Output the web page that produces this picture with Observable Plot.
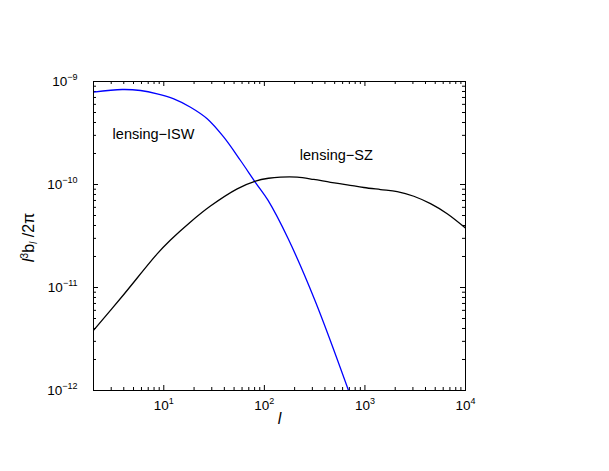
<!DOCTYPE html>
<html><head><meta charset="utf-8">
<script src="https://cdn.jsdelivr.net/npm/d3@7"></script>
<script src="https://cdn.jsdelivr.net/npm/@observablehq/plot@0.6"></script>
<style>body{margin:0;background:#fff} svg{display:block}</style>
</head><body><div id="chart"></div>
<script>
// lensing-SZ (black)
const szL = [2, 4.0, 8.59, 11.66, 18.44, 29.1, 53.7, 81.7, 110, 144.5, 211.8, 309.7, 455, 667, 975, 1429, 2094, 3062, 4487, 6577, 10000];
const szV = [3.83e-12, 8.55e-12, 2.12e-11, 2.89e-11, 4.33e-11, 6.18e-11, 9.08e-11, 1.08e-10, 1.15e-10, 1.18e-10, 1.18e-10, 1.12e-10, 1.05e-10, 9.93e-11, 9.35e-11, 8.93e-11, 8.54e-11, 7.69e-11, 6.51e-11, 5.2e-11, 3.77e-11];
// lensing-ISW (blue)
const iswL = [2, 3.86, 5.87, 8.59, 12.57, 18.44, 27.0, 39.5, 57.9, 81.7, 108.9, 172.6, 318.6, 687];
const iswV = [7.87e-10, 8.36e-10, 8.18e-10, 7.6e-10, 6.79e-10, 5.63e-10, 4.35e-10, 2.88e-10, 1.71e-10, 1.045e-10, 7.0e-11, 2.97e-11, 7.48e-12, 1e-12];
// annotations
const annText = ["lensing\u2212ISW", "lensing\u2212SZ"];
const annL = [7.9, 519];
const annV = [3.05e-10, 1.91e-10];
// ticks
const xMajor = [10, 100, 1000, 10000];
const yMajor = [1e-12, 1e-11, 1e-10, 1e-9];
const xMinor = [], yMinor = [];
for (let e = 0; e < 4; e++) for (let m = 2; m <= 9; m++) { const v = m * 10 ** e; if (v > 2 && v < 1e4) xMinor.push(v); }
for (let e = -12; e < -9; e++) for (let m = 2; m <= 9; m++) yMinor.push(m * 10 ** e);

const W = 609, H = 471, mL = 93, mR = 144, mT = 81, mB = 81;
const fw = W - mL - mR, fh = H - mT - mB;
const major = 5, minor = 3;
const font = "'Liberation Sans', Arial, Helvetica, sans-serif";

const sz = szL.map((l, i) => ({l, v: szV[i]}));
const isw = iswL.map((l, i) => ({l, v: iswV[i]}));
const ann = annText.map((t, i) => ({t, l: annL[i], v: annV[i]}));
const expFmt = d => "10^" + String(Math.round(Math.log10(d))).replace("-", "\u2212");

const chart = Plot.plot({
  width: W, height: H,
  marginLeft: mL, marginRight: mR, marginTop: mT, marginBottom: mB,
  style: {fontFamily: font, background: "#fff", color: "#000"},
  x: {type: "log", domain: [2, 1e4]},
  y: {type: "log", domain: [1e-12, 1e-9]},
  marks: [
    Plot.tickX(xMajor, {x: d => d, insetTop: fh - major, stroke: "#000"}),
    Plot.tickX(xMajor, {x: d => d, insetBottom: fh - major, stroke: "#000"}),
    Plot.tickX(xMinor, {x: d => d, insetTop: fh - minor, stroke: "#000"}),
    Plot.tickX(xMinor, {x: d => d, insetBottom: fh - minor, stroke: "#000"}),
    Plot.tickY(yMajor, {y: d => d, insetRight: fw - major, stroke: "#000"}),
    Plot.tickY(yMajor, {y: d => d, insetLeft: fw - major, stroke: "#000"}),
    Plot.tickY(yMinor, {y: d => d, insetRight: fw - minor, stroke: "#000"}),
    Plot.tickY(yMinor, {y: d => d, insetLeft: fw - minor, stroke: "#000"}),
    Plot.line(isw, {x: "l", y: "v", stroke: "#0000ff", strokeWidth: 1.3, curve: "catmull-rom", clip: true}),
    Plot.line(sz, {x: "l", y: "v", stroke: "#000", strokeWidth: 1.3, curve: "catmull-rom", clip: true}),
    Plot.frame({stroke: "#000"}),
    Plot.axisX(xMajor, {tickSize: 0, tickPadding: 10, tickFormat: expFmt, label: null}),
    Plot.axisY(yMajor, {tickSize: 0, tickPadding: 16, tickFormat: expFmt, label: null}),
    Plot.text(ann, {x: "l", y: "v", text: "t", fontSize: 14.5, fill: "#000"}),
    Plot.text(["YLABEL"], {frameAnchor: "left", dx: -65, rotate: -90, fontSize: 16, fill: "#000"}),
    Plot.text(["XLABEL"], {frameAnchor: "bottom", dy: 33, fontSize: 16, fill: "#000"})
  ]
});
document.getElementById("chart").appendChild(chart);

const NS = "http://www.w3.org/2000/svg";
function ts(parent, txt, attrs, style) {
  const t = document.createElementNS(NS, "tspan");
  t.textContent = txt;
  for (const k in attrs) t.setAttribute(k, attrs[k]);
  if (style) Object.assign(t.style, style);
  parent.appendChild(t);
}
let yLabelText = null;
chart.querySelectorAll('text').forEach(t => {
  const s = t.textContent;
  const m = s.match(/^10\^(.+)$/);
  if (m) {
    t.textContent = "";
    t.style.fontSize = "13.5px";
    ts(t, "10", {}, {fontSize: "13.5px"});
    ts(t, m[1], {dy: "-6"}, {fontSize: "9px"});
  } else if (s === "YLABEL") {
    t.textContent = "";
    ts(t, "l", {"font-style": "italic"});
    ts(t, "3", {dy: "-6"}, {fontSize: "10.5px"});
    ts(t, "b", {dy: "6"});
    ts(t, "l", {dy: "3", "font-style": "italic"}, {fontSize: "10.5px"});
    ts(t, " /2\u03c0", {dy: "-3"});
    yLabelText = t;
  } else if (s === "XLABEL") {
    t.textContent = "";
    ts(t, "l", {"font-style": "italic"});
  }
});
// center the y label on the frame's vertical middle
if (yLabelText) {
  const svgBox = chart.getBoundingClientRect();
  const b = yLabelText.getBoundingClientRect();
  const cy = b.top + b.height / 2 - svgBox.top;
  const target = mT + fh / 2 + 2;
  const g = yLabelText.parentNode;
  const prev = g.getAttribute("transform") || "";
  g.setAttribute("transform", `translate(0,${target - cy}) ${prev}`);
}
</script>
</body></html>
